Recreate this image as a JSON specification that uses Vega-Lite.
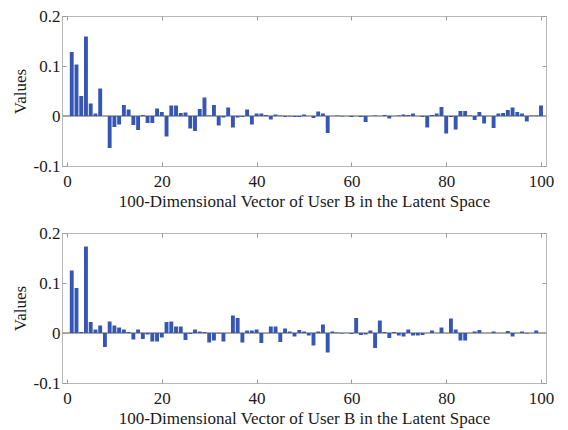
{
  "$schema": "https://vega.github.io/schema/vega-lite/v6.json",
  "padding": {"left": 10, "top": 6, "right": 4, "bottom": 2},
  "background": "white",
  "datasets": {
    "top": [
      {"i":1,"v":0.128},{"i":2,"v":0.103},{"i":3,"v":0.040},{"i":4,"v":0.159},{"i":5,"v":0.025},
      {"i":6,"v":0.005},{"i":7,"v":0.055},{"i":8,"v":0.000},{"i":9,"v":-0.064},{"i":10,"v":-0.022},
      {"i":11,"v":-0.017},{"i":12,"v":0.022},{"i":13,"v":0.013},{"i":14,"v":-0.018},{"i":15,"v":-0.028},
      {"i":16,"v":0.002},{"i":17,"v":-0.014},{"i":18,"v":-0.014},{"i":19,"v":0.015},{"i":20,"v":0.008},
      {"i":21,"v":-0.041},{"i":22,"v":0.021},{"i":23,"v":0.021},{"i":24,"v":0.006},{"i":25,"v":0.007},
      {"i":26,"v":-0.025},{"i":27,"v":-0.030},{"i":28,"v":0.014},{"i":29,"v":0.037},{"i":30,"v":0.001},
      {"i":31,"v":0.022},{"i":32,"v":-0.019},{"i":33,"v":-0.003},{"i":34,"v":0.017},{"i":35,"v":-0.023},
      {"i":36,"v":-0.003},{"i":37,"v":-0.002},{"i":38,"v":0.013},{"i":39,"v":-0.017},{"i":40,"v":0.005},
      {"i":41,"v":0.005},{"i":42,"v":0.002},{"i":43,"v":-0.007},{"i":44,"v":0.003},{"i":45,"v":0.001},
      {"i":46,"v":-0.002},{"i":47,"v":-0.001},{"i":48,"v":-0.002},{"i":49,"v":-0.002},{"i":50,"v":0.003},
      {"i":51,"v":0.000},{"i":52,"v":-0.004},{"i":53,"v":0.009},{"i":54,"v":0.005},{"i":55,"v":-0.034},
      {"i":56,"v":0.000},{"i":57,"v":0.001},{"i":58,"v":-0.001},{"i":59,"v":0.000},{"i":60,"v":-0.002},
      {"i":61,"v":0.000},{"i":62,"v":-0.002},{"i":63,"v":-0.012},{"i":64,"v":0.000},{"i":65,"v":0.001},
      {"i":66,"v":0.000},{"i":67,"v":0.002},{"i":68,"v":-0.005},{"i":69,"v":0.000},{"i":70,"v":0.001},
      {"i":71,"v":0.003},{"i":72,"v":0.002},{"i":73,"v":0.005},{"i":74,"v":0.000},{"i":75,"v":-0.002},
      {"i":76,"v":-0.023},{"i":77,"v":0.002},{"i":78,"v":0.005},{"i":79,"v":0.018},{"i":80,"v":-0.035},
      {"i":81,"v":-0.002},{"i":82,"v":-0.027},{"i":83,"v":0.010},{"i":84,"v":0.010},{"i":85,"v":0.001},
      {"i":86,"v":-0.008},{"i":87,"v":0.008},{"i":88,"v":-0.015},{"i":89,"v":0.000},{"i":90,"v":-0.024},
      {"i":91,"v":0.005},{"i":92,"v":0.006},{"i":93,"v":0.012},{"i":94,"v":0.017},{"i":95,"v":0.008},
      {"i":96,"v":0.005},{"i":97,"v":-0.011},{"i":98,"v":0.001},{"i":99,"v":0.001},{"i":100,"v":0.021}
    ],
    "bottom": [
      {"i":1,"v":0.125},{"i":2,"v":0.090},{"i":3,"v":0.002},{"i":4,"v":0.173},{"i":5,"v":0.022},
      {"i":6,"v":0.007},{"i":7,"v":0.015},{"i":8,"v":-0.028},{"i":9,"v":0.023},{"i":10,"v":0.015},
      {"i":11,"v":0.011},{"i":12,"v":0.007},{"i":13,"v":0.002},{"i":14,"v":-0.013},{"i":15,"v":0.007},
      {"i":16,"v":-0.012},{"i":17,"v":-0.003},{"i":18,"v":-0.017},{"i":19,"v":-0.017},{"i":20,"v":-0.009},
      {"i":21,"v":0.022},{"i":22,"v":0.023},{"i":23,"v":0.013},{"i":24,"v":0.013},{"i":25,"v":-0.014},
      {"i":26,"v":-0.002},{"i":27,"v":0.007},{"i":28,"v":0.003},{"i":29,"v":0.002},{"i":30,"v":-0.019},
      {"i":31,"v":-0.015},{"i":32,"v":-0.001},{"i":33,"v":-0.017},{"i":34,"v":0.000},{"i":35,"v":0.035},
      {"i":36,"v":0.030},{"i":37,"v":-0.019},{"i":38,"v":0.005},{"i":39,"v":0.005},{"i":40,"v":0.007},
      {"i":41,"v":-0.020},{"i":42,"v":0.000},{"i":43,"v":0.013},{"i":44,"v":0.013},{"i":45,"v":-0.018},
      {"i":46,"v":0.009},{"i":47,"v":0.003},{"i":48,"v":-0.007},{"i":49,"v":0.006},{"i":50,"v":0.003},
      {"i":51,"v":-0.005},{"i":52,"v":-0.025},{"i":53,"v":0.003},{"i":54,"v":0.017},{"i":55,"v":-0.039},
      {"i":56,"v":0.003},{"i":57,"v":0.001},{"i":58,"v":-0.001},{"i":59,"v":0.000},{"i":60,"v":-0.002},
      {"i":61,"v":0.030},{"i":62,"v":-0.004},{"i":63,"v":-0.003},{"i":64,"v":0.005},{"i":65,"v":-0.030},
      {"i":66,"v":0.025},{"i":67,"v":0.002},{"i":68,"v":-0.010},{"i":69,"v":0.002},{"i":70,"v":-0.005},
      {"i":71,"v":-0.007},{"i":72,"v":0.007},{"i":73,"v":-0.005},{"i":74,"v":-0.005},{"i":75,"v":-0.004},
      {"i":76,"v":0.000},{"i":77,"v":0.005},{"i":78,"v":0.000},{"i":79,"v":0.011},{"i":80,"v":0.000},
      {"i":81,"v":0.029},{"i":82,"v":0.007},{"i":83,"v":-0.015},{"i":84,"v":-0.015},{"i":85,"v":0.000},
      {"i":86,"v":0.003},{"i":87,"v":0.006},{"i":88,"v":0.000},{"i":89,"v":0.000},{"i":90,"v":0.003},
      {"i":91,"v":0.000},{"i":92,"v":0.000},{"i":93,"v":0.004},{"i":94,"v":-0.007},{"i":95,"v":0.000},
      {"i":96,"v":0.003},{"i":97,"v":-0.001},{"i":98,"v":0.000},{"i":99,"v":0.005},{"i":100,"v":0.000}
    ]
  },
  "spacing": 13,
  "vconcat": [
    {
      "width": 484, "height": 150,
      "data": {"name": "top"},
      "resolve": {"axis": {"x": "independent", "y": "independent"}},
      "layer": [
        {
          "mark": {"type": "rule", "color": "#a8a8a8", "strokeWidth": 1},
          "encoding": {"y": {"datum": 0, "type": "quantitative", "scale": {"domain": [-0.1, 0.2], "nice": false}, "axis": null}}
        },
        {
          "mark": {"type": "bar", "size": 3.9, "color": "#3656b4", "clip": true},
          "encoding": {
            "x": {"field": "i", "type": "quantitative", "scale": {"domain": [0, 100], "nice": false, "zero": false},
                  "axis": {"orient": "bottom", "title": "100-Dimensional Vector of User B in the Latent Space", "values": [0,20,40,60,80,100]}},
            "y": {"field": "v", "type": "quantitative", "scale": {"domain": [-0.1, 0.2], "nice": false},
                  "axis": {"orient": "left", "title": "Values", "values": [-0.1, 0, 0.1, 0.2],
                           "labelExpr": "datum.value == 0 ? '0' : (datum.value < 0 ? '-' + format(-datum.value, '.1f') : format(datum.value, '.1f'))"}}
          }
        },
        {
          "mark": {"type": "point", "opacity": 0},
          "encoding": {
            "x": {"field": "i", "type": "quantitative", "axis": {"orient": "top", "labels": false, "title": null, "values": [0,20,40,60,80,100]}},
            "y": {"field": "v", "type": "quantitative", "axis": {"orient": "right", "labels": false, "title": null, "values": [-0.1, 0, 0.1, 0.2]}}
          }
        }
      ]
    },
    {
      "width": 484, "height": 150,
      "data": {"name": "bottom"},
      "resolve": {"axis": {"x": "independent", "y": "independent"}},
      "layer": [
        {
          "mark": {"type": "rule", "color": "#a8a8a8", "strokeWidth": 1},
          "encoding": {"y": {"datum": 0, "type": "quantitative", "scale": {"domain": [-0.1, 0.2], "nice": false}, "axis": null}}
        },
        {
          "mark": {"type": "bar", "size": 3.9, "color": "#3656b4", "clip": true},
          "encoding": {
            "x": {"field": "i", "type": "quantitative", "scale": {"domain": [0, 100], "nice": false, "zero": false},
                  "axis": {"orient": "bottom", "title": "100-Dimensional Vector of User B in the Latent Space", "values": [0,20,40,60,80,100]}},
            "y": {"field": "v", "type": "quantitative", "scale": {"domain": [-0.1, 0.2], "nice": false},
                  "axis": {"orient": "left", "title": "Values", "values": [-0.1, 0, 0.1, 0.2],
                           "labelExpr": "datum.value == 0 ? '0' : (datum.value < 0 ? '-' + format(-datum.value, '.1f') : format(datum.value, '.1f'))"}}
          }
        },
        {
          "mark": {"type": "point", "opacity": 0},
          "encoding": {
            "x": {"field": "i", "type": "quantitative", "axis": {"orient": "top", "labels": false, "title": null, "values": [0,20,40,60,80,100]}},
            "y": {"field": "v", "type": "quantitative", "axis": {"orient": "right", "labels": false, "title": null, "values": [-0.1, 0, 0.1, 0.2]}}
          }
        }
      ]
    }
  ],
  "config": {
    "view": {"stroke": "#b8b8b8", "strokeWidth": 1},
    "axis": {
      "labelFont": "Liberation Serif", "titleFont": "Liberation Serif",
      "labelFontSize": 17, "titleFontSize": 17, "titleFontWeight": "normal",
      "labelColor": "#1a1a1a", "titleColor": "#1a1a1a",
      "grid": false, "domain": false,
      "tickColor": "#999999", "tickSize": -4,
      "labelFlush": false, "labelOverlap": false
    },
    "axisX": {"titlePadding": 4, "labelPadding": 11},
    "axisY": {"titlePadding": 4, "labelPadding": 6}
  }
}
